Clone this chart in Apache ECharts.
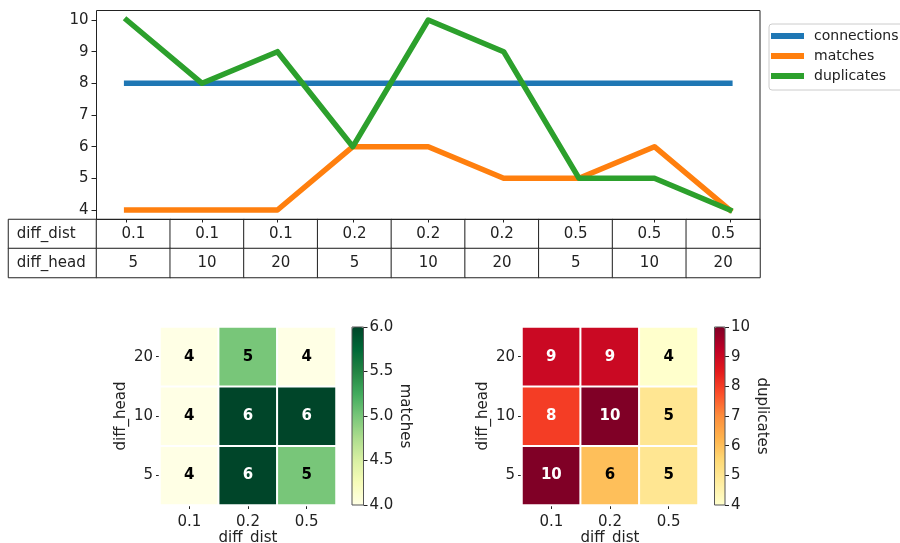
<!DOCTYPE html>
<html>
<head>
<meta charset="utf-8">
<script src="https://cdn.jsdelivr.net/npm/echarts@6/dist/echarts.min.js"></script>
<style>
  html, body { margin: 0; padding: 0; background: #fff; }
  #chart { width: 900px; height: 543px; }
</style>
</head>
<body>
<div id="chart"></div>
<script>
// Parameter combinations (one per run) and the measured counts
const distValues = ['0.1', '0.1', '0.1', '0.2', '0.2', '0.2', '0.5', '0.5', '0.5'];
const headValues = ['5', '10', '20', '5', '10', '20', '5', '10', '20'];
const connections = [8, 8, 8, 8, 8, 8, 8, 8, 8];
const matches = [4, 4, 4, 6, 6, 5, 5, 6, 4];
const duplicates = [10, 8, 9, 6, 10, 9, 5, 5, 4];

// Table row headers and heatmap axis categories
const rowNames = ['diff_dist', 'diff_head'];
const distCats = ['0.1', '0.2', '0.5'];
const headCats = ['5', '10', '20'];
const lineTicks = [4, 5, 6, 7, 8, 9, 10];

const FONT = 'DejaVu Sans';
const INK = '#222';

const YlGn = ['#ffffe5', '#f7fcb9', '#d9f0a3', '#addd8e', '#78c679', '#41ab5d', '#238443', '#006837', '#004529'];
const YlOrRd = ['#ffffcc', '#ffeda0', '#fed976', '#feb24c', '#fd8d3c', '#fc4e2a', '#e31a1c', '#bd0026', '#800026'];

const runIdx = distValues.map((_, i) => i);

function lineSeries(name, values, color) {
  return {
    name: name, type: 'line', xAxisIndex: 0, yAxisIndex: 0,
    data: values.map((v, i) => [i, v]),
    symbol: 'none', silent: true,
    lineStyle: { width: 5.5, color: color, join: 'round', cap: 'square' },
    itemStyle: { color: color }
  };
}

// Pivot a per-run series into a dist x head grid
function gridData(values, vmin, vmax) {
  return values.map((v, i) => {
    const t = (v - vmin) / (vmax - vmin);
    return {
      value: [distCats.indexOf(distValues[i]), headCats.indexOf(headValues[i]), v],
      label: { color: t > 0.6 ? '#fff' : '#000' }
    };
  });
}

function heatAxisX(gi) {
  return {
    type: 'category', gridIndex: gi, data: distCats,
    axisLine: { show: false, onZero: false }, splitLine: { show: false },
    axisTick: { show: true, alignWithLabel: true, length: 4, lineStyle: { color: INK } },
    axisLabel: { fontFamily: FONT, fontSize: 15, color: INK, margin: 10 },
    name: 'diff_dist', nameLocation: 'middle', nameGap: 25,
    nameTextStyle: { fontFamily: FONT, fontSize: 15, color: INK }
  };
}
function heatAxisY(gi) {
  return {
    type: 'category', gridIndex: gi, data: headCats,
    axisLine: { show: false, onZero: false }, splitLine: { show: false },
    axisTick: { show: true, alignWithLabel: true, length: 4, lineStyle: { color: INK } },
    axisLabel: { fontFamily: FONT, fontSize: 15, color: INK, margin: 7 },
    name: 'diff_head', nameLocation: 'middle', nameGap: 31,
    nameTextStyle: { fontFamily: FONT, fontSize: 15, color: INK }
  };
}
function barAxisY(gi, min, max, interval, digits, name, gap) {
  return {
    type: 'value', gridIndex: gi, position: 'right', min: min, max: max, interval: interval,
    axisLine: { show: false, onZero: false }, splitLine: { show: false },
    axisTick: { show: true, length: 4, lineStyle: { color: INK } },
    axisLabel: { fontFamily: FONT, fontSize: 15, color: INK, margin: 6,
      formatter: v => v.toFixed(digits) },
    name: name, nameLocation: 'middle', nameRotate: -90, nameGap: gap,
    nameTextStyle: { fontFamily: FONT, fontSize: 15, color: INK }
  };
}
const hidden = { show: false };
function hiddenValueX(gi) { return { type: 'value', gridIndex: gi, min: 0, max: 1, show: false }; }

function box(left, top, width, height, extra) {
  return Object.assign({ left: left, top: top, width: width, height: height, outerBoundsMode: 'none', containLabel: false }, extra || {});
}
const framed = c => ({ show: true, borderColor: c, borderWidth: 1, backgroundColor: 'transparent', z: 10 });

const option = {
  animation: false,
  backgroundColor: '#fff',
  textStyle: { fontFamily: FONT },
  legend: {
    data: ['connections', 'matches', 'duplicates'],
    orient: 'vertical', left: 769, top: 24,
    padding: [5, 14, 7, 2], itemGap: 6,
    itemWidth: 33, itemHeight: 6, icon: 'rect',
    borderColor: '#ccc', borderWidth: 1, borderRadius: 3,
    textStyle: { fontFamily: FONT, fontSize: 14, color: INK, lineHeight: 14, padding: [0, 0, 0, 5] },
    selectedMode: false
  },
  grid: [
    box(96.5, 10.5, 663.5, 209, framed(INK)),
    box(8.5, 219.5, 88, 58),
    box(96.5, 219.5, 663.5, 58),
    box(160, 327, 176, 178),
    box(352, 327, 11.5, 178, framed('#555')),
    box(522, 327, 176, 178),
    box(714.5, 327, 10.5, 178, framed('#555'))
  ],
  xAxis: [
    { type: 'value', gridIndex: 0, min: -0.4, max: 8.4, z: 5,
      axisLine: { show: false, onZero: false }, splitLine: hidden,
      axisTick: { show: true, length: 3, customValues: runIdx, lineStyle: { color: INK } },
      axisLabel: hidden },
    { type: 'category', gridIndex: 1, data: ['h'], show: false },
    { type: 'category', gridIndex: 2, data: runIdx, show: false },
    heatAxisX(3),
    hiddenValueX(4),
    heatAxisX(5),
    hiddenValueX(6)
  ],
  yAxis: [
    { type: 'value', gridIndex: 0, min: 3.7, max: 10.3,
      axisLine: { show: false, onZero: false }, splitLine: hidden,
      axisTick: { show: true, length: 5, customValues: lineTicks, lineStyle: { color: INK } },
      axisLabel: { customValues: lineTicks, fontFamily: FONT, fontSize: 15, color: INK, margin: 8 } },
    { type: 'category', gridIndex: 1, data: [rowNames[1], rowNames[0]], show: false },
    { type: 'category', gridIndex: 2, data: [rowNames[1], rowNames[0]], show: false },
    heatAxisY(3),
    barAxisY(4, 4, 6, 0.5, 1, 'matches', 28),
    heatAxisY(5),
    barAxisY(6, 4, 10, 1, 0, 'duplicates', 25)
  ],
  visualMap: [
    { type: 'continuous', seriesIndex: 5, min: 4, max: 6, calculable: false,
      orient: 'vertical', left: 352, top: 327, itemWidth: 11.5, itemHeight: 178, padding: 0,
      inRange: { color: YlGn }, hoverLink: false },
    { type: 'continuous', seriesIndex: 6, min: 4, max: 10, calculable: false,
      orient: 'vertical', left: 714.5, top: 327, itemWidth: 10.5, itemHeight: 178, padding: 0,
      inRange: { color: YlOrRd }, hoverLink: false }
  ],
  series: [
    lineSeries('connections', connections, '#1f77b4'),
    lineSeries('matches', matches, '#ff7f0e'),
    lineSeries('duplicates', duplicates, '#2ca02c'),
    // table: row header column
    { type: 'heatmap', xAxisIndex: 1, yAxisIndex: 1, silent: true, z: 1,
      data: [[0, 1, 0], [0, 0, 1]],
      itemStyle: { color: '#fff', borderColor: INK, borderWidth: 1 },
      label: { show: true, position: 'insideLeft', distance: 9, fontFamily: FONT, fontSize: 15, color: INK,
        formatter: p => rowNames[p.value[2]] },
      emphasis: { disabled: true } },
    // table: parameter values per run
    { type: 'heatmap', xAxisIndex: 2, yAxisIndex: 2, silent: true, z: 1,
      data: runIdx.map(i => [i, 1, i]).concat(runIdx.map(i => [i, 0, i])),
      itemStyle: { color: '#fff', borderColor: INK, borderWidth: 1 },
      label: { show: true, fontFamily: FONT, fontSize: 15, color: INK,
        formatter: p => p.value[1] === 1 ? distValues[p.value[2]] : headValues[p.value[2]] },
      emphasis: { disabled: true } },
    // matches by diff_dist / diff_head
    { type: 'heatmap', xAxisIndex: 3, yAxisIndex: 3, silent: true,
      data: gridData(matches, 4, 6),
      itemStyle: { borderColor: '#fff', borderWidth: 2 },
      label: { show: true, fontFamily: FONT, fontSize: 15, fontWeight: 'bold' },
      emphasis: { disabled: true } },
    // duplicates by diff_dist / diff_head
    { type: 'heatmap', xAxisIndex: 5, yAxisIndex: 5, silent: true,
      data: gridData(duplicates, 4, 10),
      itemStyle: { borderColor: '#fff', borderWidth: 2 },
      label: { show: true, fontFamily: FONT, fontSize: 15, fontWeight: 'bold' },
      emphasis: { disabled: true } }
  ]
};

const chart = echarts.init(document.getElementById('chart'), null, { renderer: 'canvas' });
chart.setOption(option);
</script>
</body>
</html>
